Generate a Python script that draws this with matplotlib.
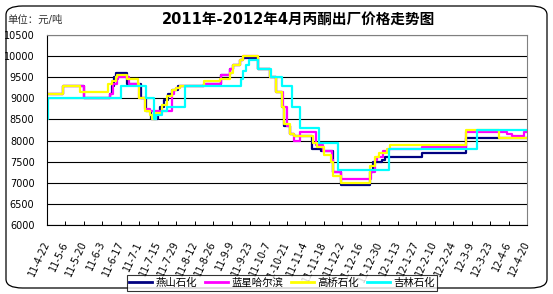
import matplotlib
matplotlib.use('Agg')
import matplotlib.pyplot as plt
from matplotlib.patches import FancyBboxPatch

plt.rcParams['font.family'] = ['DejaVu Sans', 'Noto Sans CJK SC']

# x values are days counted from 2011-4-22
tickLabels = ['11-4-22', '11-5-6', '11-5-20', '11-6-3', '11-6-17', '11-7-1', '11-7-15',
              '11-7-29', '11-8-12', '11-8-26', '11-9-9', '11-9-23', '11-10-7', '11-10-21',
              '11-11-4', '11-11-18', '11-12-2', '11-12-16', '11-12-30', '12-1-13', '12-1-27',
              '12-2-10', '12-2-24', '12-3-9', '12-3-23', '12-4-6', '12-4-20']

yanshanDays = [0, 12, 28, 48, 49, 51, 52, 61, 71, 75, 79, 84, 86, 89, 92, 95, 99, 119, 132, 139,
               141, 146, 149, 160, 169, 174, 178, 180, 184, 187, 201, 208, 217, 223, 245, 247,
               254, 256, 284, 318, 364]
yanshanPrice = [9100, 9300, 9000, 9100, 9300, 9500, 9600, 9350, 9000, 8700, 8500, 8650, 8800,
                8950, 9100, 9200, 9300, 9350, 9550, 9700, 9800, 9900, 9950, 9700, 9500, 9150,
                8800, 8350, 8150, 8100, 7800, 7750, 7250, 6950, 7250, 7500, 7550, 7600, 7700,
                8050, 8050]

lanxingDays = [0, 12, 28, 48, 50, 53, 54, 62, 70, 74, 78, 95, 96, 98, 101, 119, 132, 139, 141,
               146, 149, 160, 169, 174, 179, 182, 184, 187, 192, 204, 209, 216, 217, 223, 246,
               249, 250, 255, 259, 284, 318, 349, 353, 362, 364]
lanxingPrice = [9100, 9300, 9000, 9100, 9350, 9450, 9500, 9350, 9000, 8750, 8700, 9100, 9200,
                9250, 9300, 9350, 9550, 9700, 9800, 9900, 10000, 9700, 9500, 9150, 8800, 8350,
                8150, 8000, 8200, 7900, 7750, 7550, 7250, 7100, 7250, 7550, 7600, 7750, 7800,
                7850, 8200, 8150, 8100, 8200, 8200]

gaoqiaoDays = [0, 12, 25, 46, 49, 52, 53, 61, 69, 70, 74, 78, 80, 83, 87, 91, 95, 98, 101, 119,
               131, 139, 141, 146, 149, 160, 169, 174, 178, 180, 184, 187, 202, 205, 210, 215,
               217, 223, 245, 249, 252, 258, 260, 318, 343, 364]
gaoqiaoPrice = [9100, 9300, 9150, 9350, 9400, 9500, 9550, 9450, 9350, 9000, 8700, 8600, 8500,
                8650, 8850, 9050, 9200, 9250, 9300, 9400, 9450, 9600, 9800, 9900, 10000, 9700,
                9500, 9150, 8800, 8400, 8150, 8100, 7950, 7850, 7650, 7500, 7150, 7000, 7400,
                7600, 7700, 7800, 7900, 8250, 8050, 8050]

jilinDays = [0, 1, 56, 75, 81, 83, 87, 91, 105, 147, 149, 151, 153, 160, 170, 178, 186, 192,
             206, 221, 259, 326, 364]
jilinPrice = [8500, 9000, 9300, 9000, 8500, 8600, 8700, 8800, 9300, 9450, 9650, 9800, 9900,
              9700, 9500, 9300, 8800, 8300, 7950, 7300, 7800, 8250, 8250]

seriesList = [
    ('燕山石化', yanshanDays, yanshanPrice, '#000080'),
    ('蓝星哈尔滨', lanxingDays, lanxingPrice, '#FF00FF'),
    ('高桥石化', gaoqiaoDays, gaoqiaoPrice, '#FFFF00'),
    ('吉林石化', jilinDays, jilinPrice, '#00FFFF'),
]

fig = plt.figure(figsize=(5.53, 2.94), dpi=100)
border = FancyBboxPatch((6 / 553, 1 - 288 / 294), 541 / 553, 282 / 294,
                        boxstyle='round,pad=0,rounding_size=0.03',
                        transform=fig.transFigure, facecolor='white',
                        edgecolor='black', linewidth=0.9, zorder=-10)
fig.patches.append(border)

ax = fig.add_axes([47 / 553, 1 - 225 / 294, 480 / 553, 190 / 294])
ax.set_facecolor('none')

for name, days, price, col in seriesList:
    ax.plot(days, price, drawstyle='steps-post', color=col, linewidth=1.6, label=name)

ax.set_xlim(0, 364)
ax.set_ylim(6000, 10500)
ax.set_yticks(range(6000, 10501, 500))
ax.set_yticklabels([str(v) for v in range(6000, 10501, 500)], fontsize=7)
ax.set_xticks(range(0, 365, 14))
ax.set_xticklabels(tickLabels, fontsize=7, rotation=65, ha='right', va='center',
                   rotation_mode='anchor')
ax.tick_params(axis='y', length=0, pad=9)
ax.tick_params(axis='x', direction='in', length=3, width=0.7, pad=12)
ax.grid(axis='y', color='black', linewidth=0.8)
ax.set_axisbelow(True)
for side in ['top', 'right']:
    ax.spines[side].set_color('#808080')
    ax.spines[side].set_linewidth(0.8)
for side in ['left', 'bottom']:
    ax.spines[side].set_color('black')
    ax.spines[side].set_linewidth(0.8)

fig.text(0.54, 1 - 19 / 294, '2011年-2012年4月丙酮出厂价格走势图', ha='center', va='center',
         fontsize=10.5, fontweight='bold')
fig.text(7 / 553, 1 - 20 / 294, '单位：元/吨', ha='left', va='center', fontsize=7.5,
         color='#333333')

leg = fig.legend(loc='center', bbox_to_anchor=(282 / 553, 1 - 283 / 294), ncol=4,
                 fontsize=7.5, frameon=True, fancybox=False, edgecolor='black',
                 handlelength=2.2, handletextpad=0.3, columnspacing=0.8, borderpad=0.25,
                 borderaxespad=0)
leg.get_frame().set_linewidth(0.8)
for line in leg.get_lines():
    line.set_linewidth(2)

fig.savefig('out.png', dpi=100)
